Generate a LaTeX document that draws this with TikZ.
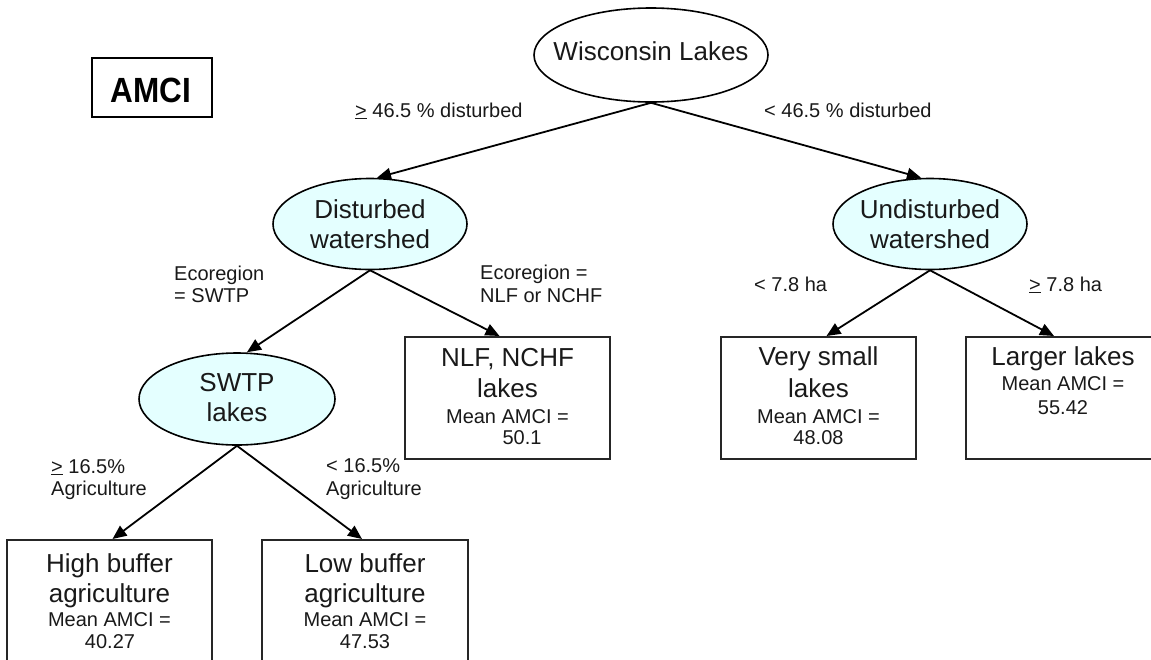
\documentclass[tikz,border=0pt]{standalone}
\usepackage{fontspec}
\setmainfont{Liberation Sans}
\usetikzlibrary{shapes.geometric,arrows.meta}
\definecolor{lakefill}{RGB}{228,255,255}
\definecolor{ink}{RGB}{25,25,25}
\tikzset{
  ell/.style={ellipse, draw=black, line width=1.6pt, inner sep=0pt},
  lakeell/.style={ell, fill=lakefill},
  leaf/.style={rectangle, draw=black!85, line width=2pt, inner sep=0pt, minimum height=122pt, anchor=north},
  big/.style={font=\fontsize{26}{30}\selectfont, text=ink, inner sep=0pt, anchor=base},
  small/.style={font=\fontsize{20}{22}\selectfont, text=ink, inner sep=0pt, anchor=base},
  lbl/.style={font=\fontsize{20}{22}\selectfont, text=ink, inner sep=0pt, anchor=base west},
  arr/.style={line width=1.8pt, -{Triangle[length=14pt,width=12pt]}},
}
\begin{document}
\begin{tikzpicture}[x=1pt,y=-1pt]
\useasboundingbox (0,0) rectangle (1151,659);

% title box
\node[draw=black, line width=2.5pt, minimum width=120pt, minimum height=59pt, inner sep=0pt] (amcibox) at (152,87.5) {};
\node[font=\fontsize{35}{38}\selectfont\bfseries, inner sep=0pt, anchor=base] (amci) at (151,102) {\scalebox{0.9}[1]{AMCI}};

% internal nodes
\node[ell, minimum width=234pt, minimum height=94pt] (wl) at (651,55) {};
\node[big] (wlt) at (651,60) {Wisconsin Lakes};

\node[lakeell, minimum width=194pt, minimum height=91pt] (dw) at (370,224) {};
\node[big] (dw1) at (370,218) {Disturbed};
\node[big] (dw2) at (370,248) {watershed};

\node[lakeell, minimum width=194pt, minimum height=91pt] (uw) at (930,224) {};
\node[big] (uw1) at (930,218) {Undisturbed};
\node[big] (uw2) at (930,248) {watershed};

\node[lakeell, minimum width=196pt, minimum height=92pt] (sw) at (237,399) {};
\node[big] (sw1) at (237,391) {SWTP};
\node[big] (sw2) at (237,421) {lakes};

% leaves
\node[leaf, minimum width=205pt] (nlf) at (507.5,336) {};
\node[big] (nlf1) at (507.5,366) {NLF, NCHF};
\node[big] (nlf2) at (507.5,397) {lakes};
\node[small] (nlf3) at (507.5,423) {Mean AMCI =};
\node[small] (nlf4) at (522,444) {50.1};

\node[leaf, minimum width=195pt] (vs) at (818.5,336) {};
\node[big] (vs1) at (818.5,365) {Very small};
\node[big] (vs2) at (818.5,397) {lakes};
\node[small] (vs3) at (818.5,423) {Mean AMCI =};
\node[small] (vs4) at (818.5,444) {48.08};

\node[leaf, minimum width=195pt] (ll) at (1063,336) {};
\node[big] (ll1) at (1063,365) {Larger lakes};
\node[small] (ll2) at (1063,390) {Mean AMCI =};
\node[small] (ll3) at (1063,414) {55.42};

\node[leaf, minimum width=205pt] (hb) at (109.5,539) {};
\node[big] (hb1) at (109.5,572) {High buffer};
\node[big] (hb2) at (109.5,602) {agriculture};
\node[small] (hb3) at (109.5,626) {Mean AMCI =};
\node[small] (hb4) at (110,648) {40.27};

\node[leaf, minimum width=206pt] (lb) at (365,539) {};
\node[big] (lb1) at (365,572) {Low buffer};
\node[big] (lb2) at (365,602) {agriculture};
\node[small] (lb3) at (365,626) {Mean AMCI =};
\node[small] (lb4) at (365,648) {47.53};

% edges
\draw[arr] (wl.south) -- ([xshift=7pt]dw.north);
\draw[arr] (wl.south) -- ([xshift=-9pt]uw.north);
\draw[arr] (dw.south) -- ([xshift=10pt]sw.north);
\draw[arr] (dw.south) -- ([xshift=-8pt]nlf.north);
\draw[arr] (sw.south) -- ([xshift=3pt]hb.north);
\draw[arr] (sw.south) -- ([xshift=-3pt]lb.north);
\draw[arr] (uw.south) -- ([xshift=8pt]vs.north);
\draw[arr] (uw.south) -- ([xshift=-9pt]ll.north);

% edge labels
\node[lbl] (e1) at (355,117) {\underline{>} 46.5 \% disturbed};
\node[lbl] (e2) at (764,117) {< 46.5 \% disturbed};
\node[lbl] (e3a) at (174,280) {Ecoregion};
\node[lbl] (e3b) at (174,302) {= SWTP};
\node[lbl] (e4a) at (480,279) {Ecoregion =};
\node[lbl] (e4b) at (480,302) {NLF or NCHF};
\node[lbl] (e5) at (754,291) {< 7.8 ha};
\node[lbl] (e6) at (1029,291) {\underline{>} 7.8 ha};
\node[lbl] (e7a) at (51,473) {\underline{>} 16.5\%};
\node[lbl] (e7b) at (51,495) {Agriculture};
\node[lbl] (e8a) at (326,472) {< 16.5\%};
\node[lbl] (e8b) at (326,495) {Agriculture};
\end{tikzpicture}
\end{document}
